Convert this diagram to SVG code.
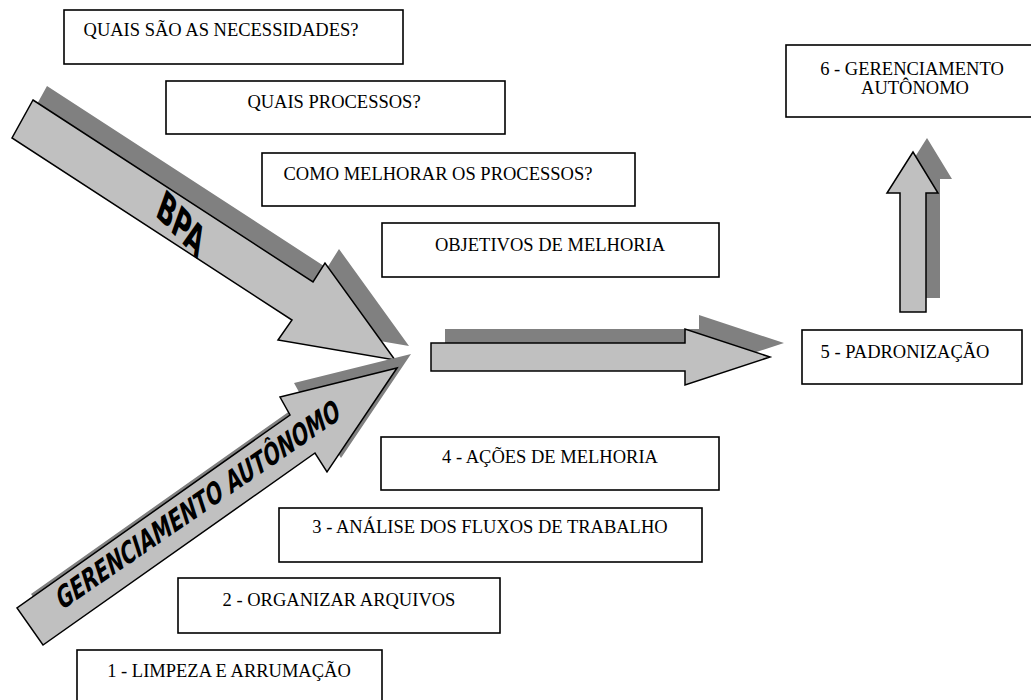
<svg xmlns="http://www.w3.org/2000/svg" width="1031" height="700" viewBox="0 0 1031 700">
  <style>
    .box { fill: #ffffff; stroke: #000000; stroke-width: 1.6; }
    .lbl { font-family: 'Liberation Serif', 'DejaVu Serif', 'Times New Roman', serif; font-size: 18.5px; fill: #000000; text-anchor: middle; }
    .arrow { fill: #c0c0c0; stroke: #000000; stroke-width: 1.5; stroke-linejoin: miter; }
    .shadow { fill: #808080; stroke: none; }
    .art { font-family: 'Liberation Sans Narrow', 'DejaVu Sans Condensed', 'Liberation Sans', sans-serif; font-weight: bold; fill: #000000; text-anchor: middle; }
  </style>
  <defs>
    <polygon id="bpa-shape" points="33,100 313,282 325,263 395,360 278,340 292,320 12,138"/>
    <polygon id="ga-shape" points="397,368 327,472 315,453 43,645 17,608 290,415 280,397"/>
    <polygon id="right-shape" points="431,343 685,343 685,329 770,357 685,385 685,371 431,371"/>
    <polygon id="up-shape" points="900,312 900,193 887,193 913,152 938,193 926,193 926,312"/>
  </defs>

  <!-- block arrows with their offset drop shadows -->
  <g id="connectors">
    <g id="arrow-bpa">
      <use href="#bpa-shape" class="shadow" transform="translate(14,-14)"/>
      <use href="#bpa-shape" class="arrow"/>
      <text class="art" font-size="40" textLength="62" lengthAdjust="spacingAndGlyphs" x="0" y="14" transform="matrix(0.695,0.719,-0.342,0.940,181,224)">BPA</text>
    </g>
    <g id="arrow-ga">
      <use href="#ga-shape" class="shadow" transform="translate(14,-14)"/>
      <use href="#ga-shape" class="arrow"/>
      <text class="art" font-family="DejaVu Sans Condensed, DejaVu Sans, sans-serif" style="font-family: 'DejaVu Sans Condensed', 'DejaVu Sans', sans-serif;" font-size="30" textLength="340" lengthAdjust="spacingAndGlyphs" x="0" y="11" transform="matrix(0.824,-0.566,0.309,0.951,198,504)">GERENCIAMENTO AUTÔNOMO</text>
    </g>
    <g id="arrow-right">
      <use href="#right-shape" class="shadow" transform="translate(14,-14)"/>
      <use href="#right-shape" class="arrow"/>
    </g>
    <g id="arrow-up">
      <use href="#up-shape" class="shadow" transform="translate(14,-14)"/>
      <use href="#up-shape" class="arrow"/>
    </g>
  </g>

  <!-- question boxes -->
  <g id="n-necessidades">
    <rect class="box" x="64" y="10" width="339" height="54"/>
    <text class="lbl" font-family="Liberation Serif, serif" x="221" y="36">QUAIS SÃO AS NECESSIDADES?</text>
  </g>
  <g id="n-processos">
    <rect class="box" x="166" y="81" width="339" height="53"/>
    <text class="lbl" font-family="Liberation Serif, serif" x="334" y="108">QUAIS PROCESSOS?</text>
  </g>
  <g id="n-melhorar">
    <rect class="box" x="262" y="153" width="373" height="53"/>
    <text class="lbl" font-family="Liberation Serif, serif" x="438" y="180">COMO MELHORAR OS PROCESSOS?</text>
  </g>
  <g id="n-objetivos">
    <rect class="box" x="382" y="223" width="337" height="54"/>
    <text class="lbl" font-family="Liberation Serif, serif" x="550" y="251">OBJETIVOS DE MELHORIA</text>
  </g>

  <!-- numbered steps -->
  <g id="n-step4">
    <rect class="box" x="381" y="437" width="338" height="53"/>
    <text class="lbl" font-family="Liberation Serif, serif" x="550" y="463">4 - AÇÕES DE MELHORIA</text>
  </g>
  <g id="n-step3">
    <rect class="box" x="279" y="508" width="423" height="54"/>
    <text class="lbl" font-family="Liberation Serif, serif" x="490" y="533">3 - ANÁLISE DOS FLUXOS DE TRABALHO</text>
  </g>
  <g id="n-step2">
    <rect class="box" x="178" y="578" width="322" height="55"/>
    <text class="lbl" font-family="Liberation Serif, serif" x="339" y="606">2 - ORGANIZAR ARQUIVOS</text>
  </g>
  <g id="n-step1">
    <rect class="box" x="77" y="650" width="305" height="60"/>
    <text class="lbl" font-family="Liberation Serif, serif" x="229" y="677">1 - LIMPEZA E ARRUMAÇÃO</text>
  </g>
  <g id="n-step5">
    <rect class="box" x="802" y="330" width="220" height="54"/>
    <text class="lbl" font-family="Liberation Serif, serif" x="905" y="358">5 - PADRONIZAÇÃO</text>
  </g>
  <g id="n-step6">
    <rect class="box" x="786" y="45" width="260" height="72"/>
    <text class="lbl" font-family="Liberation Serif, serif" x="912" y="75">6 - GERENCIAMENTO</text>
    <text class="lbl" font-family="Liberation Serif, serif" x="915" y="94">AUTÔNOMO</text>
  </g>
</svg>
